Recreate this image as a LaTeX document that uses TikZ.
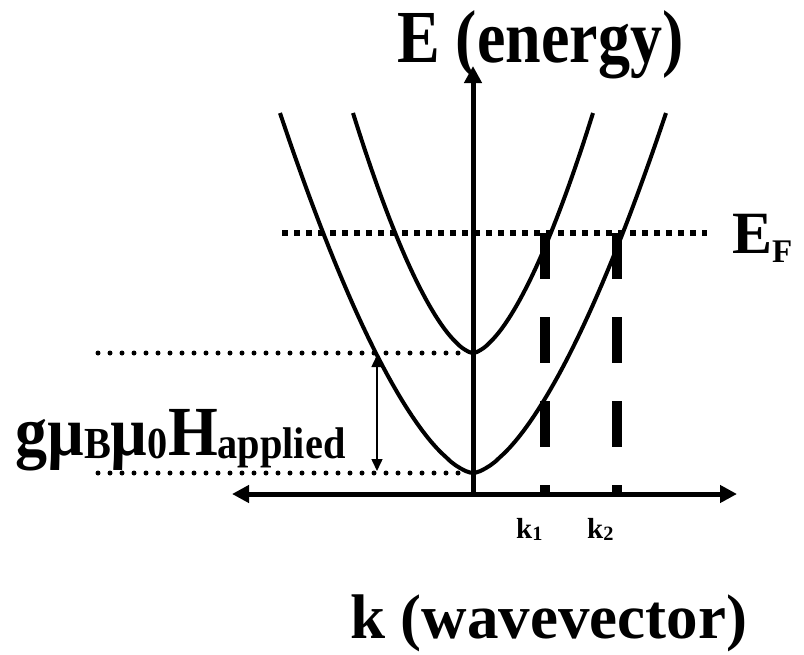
\documentclass[tikz,border=0pt]{standalone}
\usepackage{fontspec}
\setmainfont{Liberation Serif}
\usepackage{graphicx}
\usepackage{tikz}
\usetikzlibrary{arrows.meta}
\newcommand{\lowsub}[3][0.63]{\raisebox{-#2em}{\scalebox{#1}{#3}}}

\begin{document}
\begin{tikzpicture}[x=1pt, y=-1pt,
        axis/.style={line width=5pt, -{Triangle[length=17pt, width=17pt]}},
        band/.style={line width=4pt, line join=round},
        fermiline/.style={line width=6pt, dash pattern=on 6pt off 6pt},
        levelline/.style={line width=5pt, line cap=round, dash pattern=on 0pt off 12pt},
        kline/.style={line width=10pt, dash pattern=on 46pt off 38pt},
        lbl/.style={inner sep=0pt, anchor=base west, font=\bfseries}]
        \useasboundingbox (0,0) rectangle (804,654);

        % axes
        \coordinate (origin) at (473,494);
        \coordinate (etop) at (473,66);
        \coordinate (kleft) at (232,494);
        \coordinate (kright) at (737,494);
        \draw[axis] (origin) -- (etop);
        \draw[axis, {Triangle[length=17pt, width=17pt]}-{Triangle[length=17pt, width=17pt]}]
            (kleft) -- (kright);

        % the two spin bands
        \draw[band] plot[domain=-193:193, samples=80]
            ({473+\x}, {473-360*(abs(\x)/193)^1.6});
        \draw[band] plot[domain=-120:120, samples=80]
            ({473+\x}, {353-240*(abs(\x)/120)^1.6});

        % Fermi level and band bottoms
        \coordinate (efleft) at (282,233);
        \coordinate (efright) at (707,233);
        \draw[fermiline] (efleft) -- (efright);
        \coordinate (upleft) at (98,353);
        \coordinate (upright) at (463,353);
        \coordinate (lowleft) at (98,473);
        \coordinate (lowright) at (463,473);
        \draw[levelline] (upleft) -- (upright);
        \draw[levelline] (lowleft) -- (lowright);

        % splitting
        \coordinate (gaptop) at (377,355);
        \coordinate (gapbot) at (377,471);
        \draw[line width=1.5pt, {Triangle[length=12pt, width=11pt]}-{Triangle[length=12pt, width=11pt]}]
            (gaptop) -- (gapbot);

        % Fermi wavevectors
        \coordinate (kone) at (545,233);
        \coordinate (konebase) at (545,494);
        \coordinate (ktwo) at (617,233);
        \coordinate (ktwobase) at (617,494);
        \draw[kline] (kone) -- (konebase);
        \draw[kline] (ktwo) -- (ktwobase);

        \node[lbl] (elabel) at (397,62)
            {\fontsize{64}{70}\selectfont\scalebox{1}[1.17]{E (energy)}};
        \node[lbl] (klabel) at (350,638)
            {\fontsize{63}{70}\selectfont k (wavevector)};
        \node[lbl] (eflabel) at (732,253)
            {\fontsize{60}{66}\selectfont E\lowsub[0.55]{0.16}{F}};
        \node[lbl] (zeeman) at (15,455)
            {\fontsize{64}{70}\selectfont\scalebox{1}[1.1]{g\textmu\lowsub{0.05}{B}\textmu\lowsub{0.05}{0}H\lowsub{0.05}{applied}}};
        \node[lbl] (konelabel) at (516,538)
            {\fontsize{29}{32}\selectfont k\lowsub[0.7]{0.08}{1}};
        \node[lbl] (ktwolabel) at (587,538)
            {\fontsize{29}{32}\selectfont k\lowsub[0.7]{0.08}{2}};
    \end{tikzpicture}
\end{document}
